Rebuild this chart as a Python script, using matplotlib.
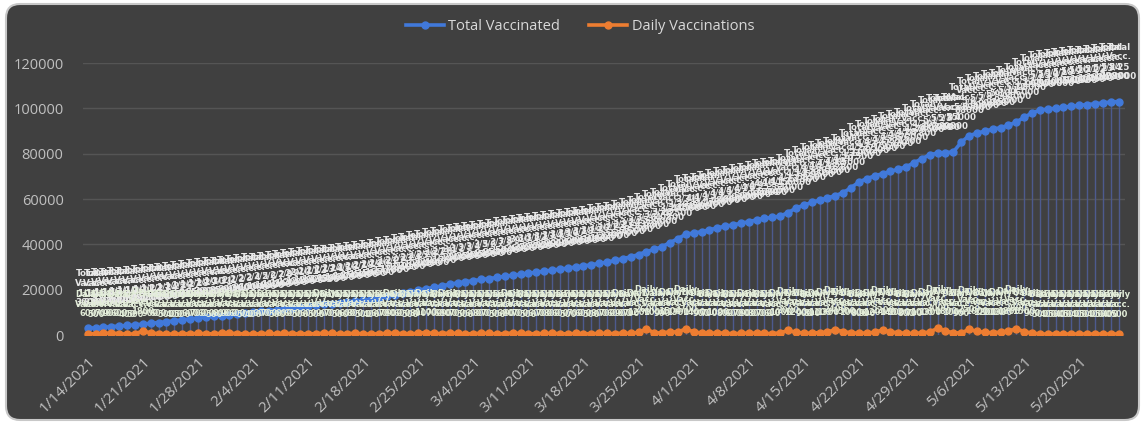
import numpy as np
import pandas as pd
import matplotlib
matplotlib.use("Agg")
import matplotlib.pyplot as plt
from matplotlib.patches import FancyBboxPatch

# dates on the category axis
dates = pd.date_range("2021-01-14", "2021-05-25", freq="D")
date_labels = [f"{d.month}/{d.day}/{d.year}" for d in dates]
short_dates = [f"{d.month}/{d.day}" for d in dates]

# values (one per day)
total_vaccinated = [
    3000, 3200, 3400, 3700, 4000, 4200, 4500,
    4800, 5200, 5500, 5900, 6300, 6700, 7100,
    7500, 7900, 8200, 8500, 8900, 9300, 9600,
    10000, 10400, 10800, 11200, 11600, 12000, 12400,
    12800, 13200, 13500, 13900, 14300, 14700, 15000,
    15400, 15900, 16500, 17100, 17800, 18400, 19100,
    19800, 20400, 21000, 21700, 22400, 23000, 23500,
    24000, 24500, 24900, 25400, 25900, 26400, 26800,
    27300, 27700, 28200, 28600, 29100, 29500, 30000,
    30500, 31000, 31600, 32200, 32900, 33700, 34500,
    35500, 36800, 37800, 39000, 40800, 42500, 44500,
    45000, 45600, 46400, 47300, 48000, 48600, 49300,
    50000, 50800, 51500, 51900, 52500, 54000, 56000,
    57300, 58500, 59500, 60500, 61500, 62800, 65000,
    67500, 69000, 70200, 71200, 72200, 73200, 74200,
    76000, 77800, 79500, 80300, 80500, 80800, 85000,
    88000, 89000, 90000, 90800, 91500, 92500, 94000,
    96000, 98000, 99200, 99700, 100000, 100500, 101000,
    101300, 101700, 102000, 102400, 102800, 103000,
]
daily_vaccinations = [
    600, 500, 700, 900, 600, 400, 500,
    1800, 900, 600, 500, 400, 500, 600,
    700, 600, 500, 800, 900, 600, 500,
    400, 600, 700, 500, 800, 600, 500,
    600, 500, 900, 700, 500, 600, 800,
    500, 400, 600, 700, 900, 600, 500,
    800, 1100, 700, 600, 900, 700, 500,
    600, 800, 700, 500, 600, 900, 700,
    500, 600, 700, 800, 600, 500, 700,
    600, 500, 800, 700, 600, 900, 700,
    1200, 2600, 1000, 900, 1500, 1300, 2700,
    1400, 900, 700, 1000, 800, 600, 700,
    900, 800, 700, 600, 1000, 2000, 1200,
    900, 800, 1100, 1300, 2400, 1500, 1000,
    800, 900, 1200, 2200, 1400, 1000, 800,
    700, 1000, 1300, 3000, 1800, 1000, 900,
    2500, 1600, 1200, 1000, 1300, 1800, 2800,
    1500, 900, 500, 400, 500, 400, 500,
    400, 500, 400, 500, 400, 500,
]

x = np.arange(len(dates))
bg = "#404040"

fig = plt.figure(figsize=(11.42, 4.23), dpi=100, facecolor="white")
fig.patches.append(FancyBboxPatch((6, 3), 1133, 416, boxstyle="round,pad=0,rounding_size=14",
                                  facecolor=bg, edgecolor="#c8c8c8", lw=1.5, transform=None,
                                  zorder=-5))
ax = fig.add_axes([0.0727, 0.208, 0.9123, 0.643])
ax.set_facecolor("none")

# drop lines from the total series
ax.vlines(x, 0, total_vaccinated, color="#4d5a8e", lw=1.0, zorder=1)

ax.plot(x, total_vaccinated, color="#4179da", lw=2.6, marker="o", ms=5, label="Total Vaccinated", zorder=3)
ax.plot(x, daily_vaccinations, color="#ed7d31", lw=2.6, marker="o", ms=5, label="Daily Vaccinations", zorder=3)

# cluttered data labels
for i in x:
    ax.annotate(f"Total\nVacc.\n{short_dates[i]}\n{total_vaccinated[i]}", (i, total_vaccinated[i]),
                xytext=(0, 15), textcoords="offset points", ha="center", va="bottom",
                fontsize=6.3, fontweight="bold", color="#e8e8e8",
                linespacing=1.1, annotation_clip=False, zorder=4)
    ax.annotate(f"Daily\nVacc.\n{daily_vaccinations[i]}", (i, daily_vaccinations[i]),
                xytext=(0, 11), textcoords="offset points", ha="center", va="bottom",
                fontsize=6, fontweight="bold", color="#e3edd9",
                linespacing=1.1, annotation_clip=False, zorder=4)

ax.set_xlim(-0.6, len(x) - 0.2)
ax.set_ylim(0, 120000)
ax.set_yticks(range(0, 120001, 20000))
ax.set_xticks(x[::7])
ax.set_xticklabels(date_labels[::7], rotation=45, ha="right", rotation_mode="anchor")
ax.tick_params(colors="#c0c0c0", length=0)
ax.tick_params(axis="y", pad=14, labelsize=10.5)
ax.tick_params(axis="x", pad=14, labelsize=11)
for lbl in ax.get_xticklabels() + ax.get_yticklabels():
    lbl.set_fontfamily("Open Sans")
ax.grid(axis="y", color="#555555", lw=1)
ax.set_axisbelow(True)
for s in ax.spines.values():
    s.set_visible(False)

leg = fig.legend(loc="center", bbox_to_anchor=(0.508, 0.938), ncol=2, frameon=False,
                 labelcolor="#d9d9d9", handlelength=2.6, handletextpad=0.3, columnspacing=2.0,
                 prop={"family": "Open Sans", "size": 10.5})

fig.savefig("out.png", dpi=100, facecolor=fig.get_facecolor())
